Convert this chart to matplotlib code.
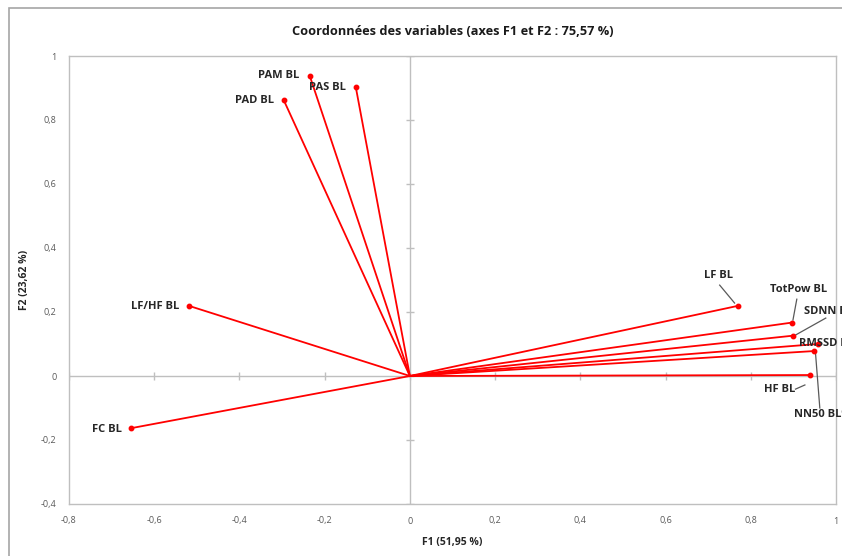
import numpy as np
import matplotlib.pyplot as plt
from matplotlib.patches import Rectangle

# coordonnées des variables (F1, F2)
variables = ["PAM BL", "PAS BL", "PAD BL", "LF/HF BL", "FC BL", "LF BL",
             "TotPow BL", "SDNN BL", "RMSSD BL", "NN50 BL%", "HF BL"]
f1 = [-0.235, -0.127, -0.296, -0.518, -0.654, 0.769, 0.897, 0.899, 0.957, 0.949, 0.938]
f2 = [0.938, 0.903, 0.862, 0.219, -0.163, 0.219, 0.167, 0.126, 0.100, 0.078, 0.003]

xticks = [-0.8, -0.6, -0.4, -0.2, 0, 0.2, 0.4, 0.6, 0.8, 1]
yticks = [-0.4, -0.2, 0, 0.2, 0.4, 0.6, 0.8, 1]

# position des étiquettes: (x, y, ha)
label_pos = {
    "PAM BL": (-0.259, 0.9375, "right"),
    "PAS BL": (-0.193, 0.903, "center"),
    "PAD BL": (-0.318, 0.862, "right"),
    "LF/HF BL": (-0.541, 0.216, "right"),
    "FC BL": (-0.675, -0.166, "right"),
    "LF BL": (0.725, 0.3125, "center"),
    "TotPow BL": (0.911, 0.269, "center"),
    "SDNN BL": (0.925, 0.200, "left"),
    "RMSSD BL": (0.913, 0.103, "left"),
    "NN50 BL%": (0.901, -0.119, "left"),
    "HF BL": (0.868, -0.041, "center"),
}

plt.rcParams['font.family'] = ['Open Sans', 'DejaVu Sans']

fig = plt.figure(figsize=(8.42, 5.56), dpi=100)
ax = fig.add_axes([69/842, 1-504/556, (836-69)/842, (504-56)/556])

# cadre du graphique
fig.patches.append(Rectangle((9/842, -0.1), 1.2, 1-8/556+0.1, transform=fig.transFigure,
                             fill=False, edgecolor="#a6a6a6", linewidth=1.2))

ax.set_xlim(-0.8, 1)
ax.set_ylim(-0.4, 1)
for s in ax.spines.values():
    s.set_color("#bfbfbf")
    s.set_linewidth(1.0)

ax.axhline(0, color="#bfbfbf", lw=1.0, zorder=1)
ax.axvline(0, color="#bfbfbf", lw=1.0, zorder=1)
ax.plot(xticks, np.zeros(len(xticks)), ls="none", marker="|", ms=6, color="#bfbfbf", zorder=1)
ax.plot(np.zeros(len(yticks)), yticks, ls="none", marker="_", ms=6, color="#bfbfbf", zorder=1)

ax.set_xticks(xticks)
ax.set_yticks(yticks)
ax.set_xticklabels([f"{t:g}".replace(".", ",") for t in xticks])
ax.set_yticklabels([f"{t:g}".replace(".", ",") for t in yticks])
ax.tick_params(length=0, labelsize=6.5, colors="#595959", pad=9)

for name, x, y in zip(variables, f1, f2):
    ax.plot([0, x], [0, y], color="#ff0000", lw=1.3, zorder=3)
    ax.plot(x, y, "o", color="#ff0000", ms=3.2, zorder=4)
    lx, ly, ha = label_pos[name]
    ax.text(lx, ly, name, ha=ha, va="center", fontsize=8, fontweight="bold",
            color="#262626", clip_on=False, zorder=5)

# lignes de rappel
leaders = {
    "LF BL": [(0.727, 0.284), (0.762, 0.228)],
    "TotPow BL": [(0.908, 0.240), (0.899, 0.175)],
    "SDNN BL": [(0.976, 0.181), (0.905, 0.128)],
    "NN50 BL%": [(0.952, 0.070), (0.962, -0.100)],
    "HF BL": [(0.905, -0.041), (0.927, -0.028)],
}
for name, pts in leaders.items():
    ax.plot([pts[0][0], pts[1][0]], [pts[0][1], pts[1][1]], color="#595959", lw=0.9, zorder=2)

ax.set_title("Coordonnées des variables (axes F1 et F2 : 75,57 %)", fontsize=9.2,
             fontweight="bold", color="#1a1a1a", pad=15)
ax.set_xlabel("F1 (51,95 %)", fontsize=7.5, fontweight="bold", color="#262626", labelpad=8)
ax.set_ylabel("F2 (23,62 %)", fontsize=7.5, fontweight="bold", color="#262626", labelpad=8)

fig.savefig("out.png", dpi=100)
